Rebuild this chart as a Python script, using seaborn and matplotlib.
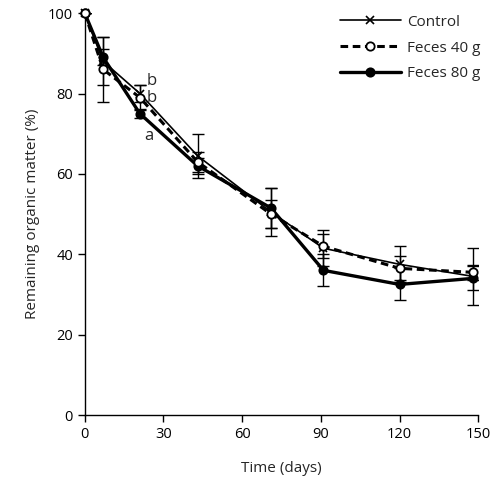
import pandas as pd
import matplotlib.pyplot as plt
import seaborn as sns

# Data
days = [0, 7, 21, 43, 71, 91, 120, 148]
control = [100, 88, 80, 64.5, 50.5, 41.5, 37.5, 34.5]
control_err = [0, 6, 2, 5.5, 6, 4.5, 4.5, 7]
feces40 = [100, 86, 79, 63, 50, 42, 36.5, 35.5]
feces40_err = [0, 8, 3, 2.5, 3.5, 3, 3, 1.8]
feces80 = [100, 89, 75, 62, 51.5, 36, 32.5, 34]
feces80_err = [0, 2, 1.2, 2, 5, 4, 4, 3]

df = pd.DataFrame({
    "Time": days * 3,
    "Value": control + feces40 + feces80,
    "Err": control_err + feces40_err + feces80_err,
    "Group": ["Control"] * 8 + ["Feces 40 g"] * 8 + ["Feces 80 g"] * 8,
})

sns.set_style("ticks")
plt.rcParams["font.family"] = ["Open Sans", "DejaVu Sans"]

styles = {
    "Control": dict(lw=1.2, ls="-", marker="x", ms=5.5, mfc="black", mew=1.2, z=3),
    "Feces 40 g": dict(lw=2.2, ls=(0, (2.5, 1.5)), marker="o", ms=6, mfc="white", mew=1.3, z=4),
    "Feces 80 g": dict(lw=2.4, ls="-", marker="o", ms=6, mfc="black", mew=1.3, z=2),
}

fig = plt.figure(figsize=(4.9, 4.86), dpi=100)
ax = fig.add_axes([0.173, 0.146, 0.803, 0.827])

for name, sub in df.groupby("Group"):
    st = styles[name]
    ax.errorbar(sub["Time"], sub["Value"], yerr=sub["Err"], fmt="none",
                ecolor="black", elinewidth=1, capsize=4, capthick=1, zorder=1)
    sns.lineplot(data=sub, x="Time", y="Value", ax=ax, color="black",
                 linewidth=st["lw"], linestyle=st["ls"], marker=st["marker"],
                 markersize=st["ms"], markerfacecolor=st["mfc"],
                 markeredgecolor="black", markeredgewidth=st["mew"],
                 label=name, zorder=st["z"], clip_on=False)

# significance letters at day 21
ax.text(25.5, 83, "b", fontsize=12, ha="center", va="center")
ax.text(25.5, 79, "b", fontsize=12, ha="center", va="center")
ax.text(24.5, 69.5, "a", fontsize=12, ha="center", va="center")

ax.set_xlim(0, 150)
ax.set_ylim(0, 100)
ax.set_xticks([0, 30, 60, 90, 120, 150])
ax.set_yticks([0, 20, 40, 60, 80, 100])
ax.tick_params(direction="out", length=5, width=1, labelsize=10.5, colors="black")
for s in ["left", "bottom"]:
    ax.spines[s].set_color("black")
    ax.spines[s].set_linewidth(1)
sns.despine(ax=ax)
ax.set_xlabel("Time (days)", fontsize=11, labelpad=14)
ax.set_ylabel("Remaining organic matter (%)", fontsize=11, labelpad=6)

leg = ax.legend(loc="upper right", frameon=False, fontsize=11,
                handlelength=4, handletextpad=0.4, labelspacing=0.7,
                bbox_to_anchor=(1.04, 1.03))

fig.savefig("out.png", dpi=100)
